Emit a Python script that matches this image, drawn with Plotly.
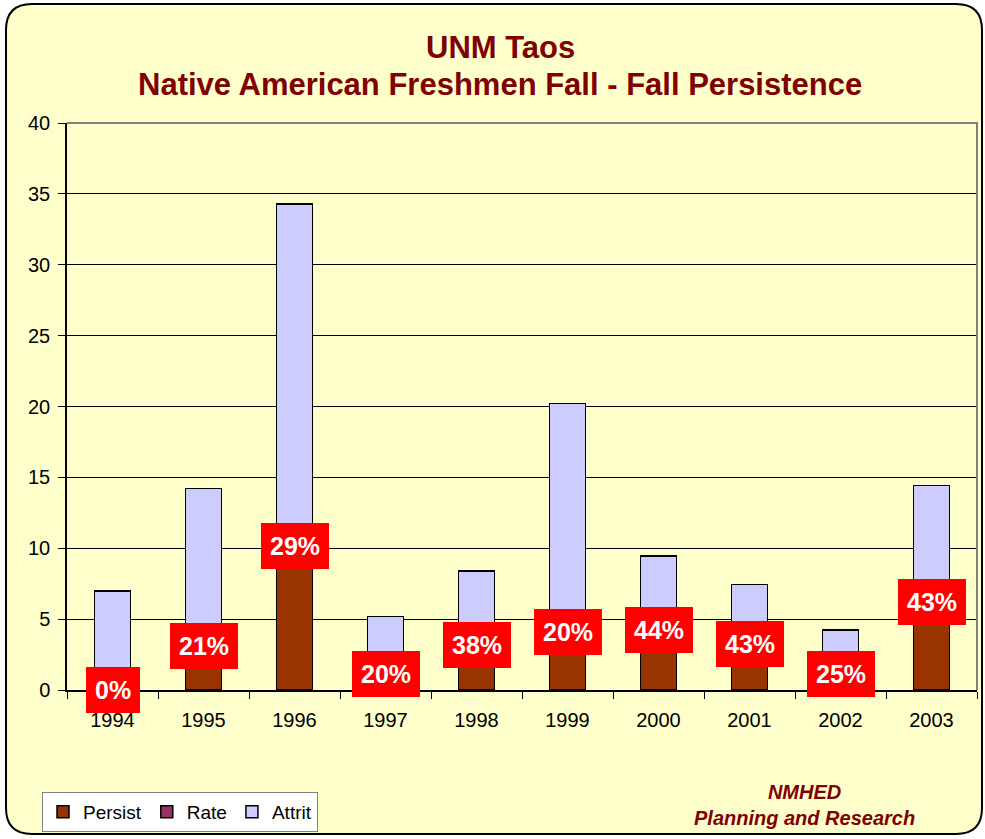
import plotly.graph_objects as go

# Fall-to-fall persistence, UNM Taos Native American freshmen
years = ["1994", "1995", "1996", "1997", "1998", "1999", "2000", "2001", "2002", "2003"]
persist = [0, 3, 10, 1, 3, 4, 4, 3, 1, 6]
rate = [0.00, 0.21, 0.29, 0.20, 0.38, 0.20, 0.44, 0.43, 0.25, 0.43]
attrit = [7, 11, 24, 4, 5, 16, 5, 4, 3, 8]
rate_labels = ["0%", "21%", "29%", "20%", "38%", "20%", "44%", "43%", "25%", "43%"]

FONT = "Liberation Sans, Arial, sans-serif"
DARK_RED = "#800000"
BG = "#FFFFCC"

# figure pixels -> paper coordinates (plot area 67..977 x 123..690)
W, H = 985, 839
L, R, T, B = 67, 8, 123, 149
PW, PH = W - L - R, H - T - B


def px(x):
    return (x - L) / PW


def py(y):
    return (H - B - y) / PH


fig = go.Figure()
line = dict(color="black", width=1.5)
fig.add_trace(go.Bar(x=years, y=persist, name="Persist", marker=dict(color="#993300", line=line)))
fig.add_trace(go.Bar(x=years, y=rate, name="Rate", marker=dict(color="#993366", line=line)))
fig.add_trace(go.Bar(x=years, y=attrit, name="Attrit", marker=dict(color="#CCCCFF", line=line)))

# red rate boxes centred on the Rate segment (x given as category index)
for i, (p, r, lab) in enumerate(zip(persist, rate, rate_labels)):
    fig.add_annotation(
        x=i, y=p + r / 2, text=f"<b>{lab}</b>", showarrow=False,
        font=dict(family=FONT, size=25, color="white"),
        bgcolor="#FF0000", bordercolor="#FF0000", borderwidth=1, borderpad=8,
        xanchor="center", yanchor="middle",
    )

# outer rounded frame
x0, x1, y0, y1 = px(6), px(982), py(4), py(834)
rx, ry = 26 / PW, 26 / PH
frame = (
    f"M {x0 + rx},{y0} L {x1 - rx},{y0} Q {x1},{y0} {x1},{y0 - ry} "
    f"L {x1},{y1 + ry} Q {x1},{y1} {x1 - rx},{y1} "
    f"L {x0 + rx},{y1} Q {x0},{y1} {x0},{y1 + ry} "
    f"L {x0},{y0 - ry} Q {x0},{y0} {x0 + rx},{y0} Z"
)
fig.add_shape(type="path", path=frame, xref="paper", yref="paper",
              fillcolor=BG, line=dict(color="black", width=2), layer="below")
# gray plot-area border on top and right
fig.add_shape(type="path", path="M 0,1 L 1,1 L 1,0", xref="paper", yref="paper",
              line=dict(color="#808080", width=2))

title_font = dict(family=FONT, size=31, color=DARK_RED)
fig.add_annotation(x=px(500), y=py(47), xref="paper", yref="paper", showarrow=False,
                   xanchor="center", yanchor="middle",
                   text="<b>UNM Taos</b>", font=title_font)
fig.add_annotation(x=px(500), y=py(85), xref="paper", yref="paper", showarrow=False,
                   xanchor="center", yanchor="middle",
                   text="<b>Native American Freshmen Fall - Fall Persistence</b>", font=title_font)
fig.add_annotation(x=px(804), y=py(805), xref="paper", yref="paper", showarrow=False,
                   xanchor="center", yanchor="middle",
                   text="<b><i>NMHED<br>Planning and Research</i></b>",
                   font=dict(family=FONT, size=20, color=DARK_RED))

fig.update_layout(
    width=W, height=H,
    margin=dict(l=L, r=R, t=T, b=B, autoexpand=False),
    barmode="stack", bargap=0.6,
    paper_bgcolor="white", plot_bgcolor="rgba(0,0,0,0)",
    font=dict(family=FONT, size=20, color="black"),
    showlegend=True,
    legend=dict(
        orientation="h", x=px(42), y=py(792), xanchor="left", yanchor="top",
        bgcolor="white", bordercolor="#808080", borderwidth=1,
        font=dict(family=FONT, size=19), itemwidth=30, traceorder="normal",
    ),
    xaxis=dict(
        type="category", range=[-0.5, 9.5], showline=True, linecolor="black", linewidth=1.5,
        ticks="outside", tickson="boundaries", ticklen=7, tickcolor="black",
        showgrid=False, tickfont=dict(size=20), tickangle=0, ticklabelstandoff=11,
    ),
    yaxis=dict(
        range=[0, 40], dtick=5, showline=True, linecolor="black", linewidth=1.5,
        ticks="outside", ticklen=7, tickcolor="black",
        showgrid=True, gridcolor="black", gridwidth=1, zeroline=False,
        tickfont=dict(size=20), ticklabelstandoff=4,
    ),
)

fig.write_html("out.html", config={"displayModeBar": False},
               post_script="document.body.style.margin='0';")
